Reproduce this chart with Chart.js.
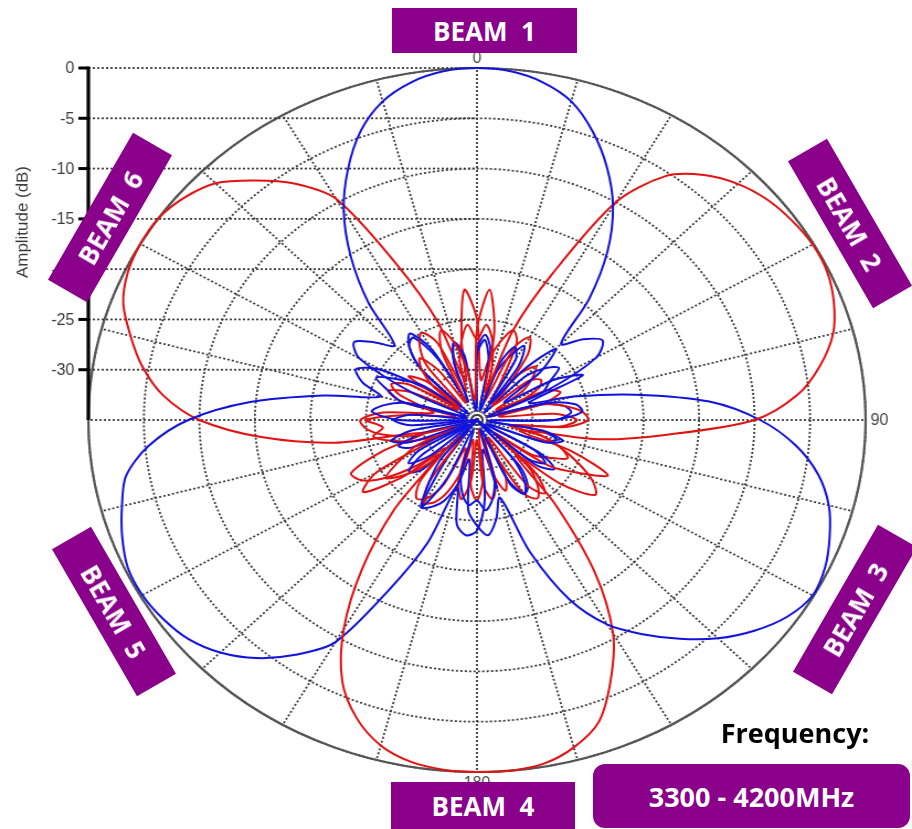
<!DOCTYPE html>
<html>
<head>
<meta charset="utf-8">
<script src="https://cdn.jsdelivr.net/npm/chart.js@4.4.1/dist/chart.umd.min.js"></script>
<style>
  html, body { margin: 0; padding: 0; background: #fff; }
  body { width: 912px; height: 829px; position: relative; overflow: hidden; font-family: 'Open Sans', sans-serif; }
  #chart { position: absolute; left: 0; top: 0; }
  .beam {
    position: absolute; height: 45px; background: #8b008b; color: #fff;
    font-weight: 700; font-size: 26px; display: flex; align-items: center;
    justify-content: center; white-space: pre;
  }
  .freq { position: absolute; left: 700px; top: 713px; width: 190px; height: 40px; line-height: 40px;
    text-align: center; font-weight: 700; font-size: 27px; color: #000; }
  .freqbox { position: absolute; left: 593px; top: 764px; width: 317px; height: 64px; border-radius: 12px;
    background: #8b008b; color: #fff; font-weight: 700; font-size: 27px; display: flex;
    align-items: center; justify-content: center; }
</style>
</head>
<body>
<canvas id="chart" width="826" height="829" style="width:912px;height:829px;"></canvas>
<div class="beam" style="left:392px;top:8px;width:185px;">BEAM  1</div>
<div class="beam" style="left:765px;top:201px;width:170px;transform:rotate(60deg);">BEAM  2</div>
<div class="beam" style="left:770px;top:587px;width:170px;transform:rotate(-60deg);">BEAM  3</div>
<div class="beam" style="left:391px;top:782px;width:184px;height:47px;">BEAM  4</div>
<div class="beam" style="left:29px;top:589px;width:170px;transform:rotate(60deg);">BEAM  5</div>
<div class="beam" style="left:25px;top:195px;width:170px;transform:rotate(-60deg);">BEAM  6</div>
<div class="freq">Frequency:</div>
<div class="freqbox">3300 - 4200MHz</div>
<script>
// azimuth in degrees, clockwise from the top
const ANGLES = [
  0, 5, 10, 15, 20, 25, 30, 35, 40, 45, 50, 55,
  60, 65, 70, 75, 80, 85, 90, 95, 100, 105, 110, 115,
  120, 125, 130, 135, 140, 145, 150, 155, 160, 165, 170, 175,
  180, 185, 190, 195, 200, 205, 210, 215, 220, 225, 230, 235,
  240, 245, 250, 255, 260, 265, 270, 275, 280, 285, 290, 295,
  300, 305, 310, 315, 320, 325, 330, 335, 340, 345, 350, 355
]

// amplitude in dB, one value per angle above
const BEAM1 = [
  0, -0.2, -0.9, -2.2, -4.5, -7.3, -10.5, -14.5, -19.3, -24.3, -22.5, -21.2,
  -22.6, -28, -34, -28.5, -26, -25.5, -28, -34, -29, -27, -28.5, -34,
  -29, -27.5, -29, -35, -30, -27.5, -26.5, -28.5, -34, -29, -27, -26,
  -27, -26.5, -27.5, -29.5, -34, -28.5, -25, -27.5, -30, -35, -29.5, -27.5,
  -29, -34, -28.5, -27, -29, -34, -28, -25.5, -26.5, -28.5, -34, -28.5,
  -22.8, -21.5, -23, -24.5, -19.8, -15.2, -11, -7.5, -4.4, -2.2, -0.9, -0.2
]
const BEAM2 = [
  -26, -22, -26, -32, -25.5, -19, -10, -5.4, -3.2, -1.8, -0.9, -0.4,
  -0.1, -0.2, -0.8, -1.8, -3.6, -6, -10, -18, -24, -31, -26, -22,
  -24.5, -27, -32, -27.5, -25.5, -27, -33, -29, -27.5, -29.5, -34, -29,
  -27, -28.5, -33, -30, -27.5, -26, -25.5, -27.5, -33, -29, -26.5, -25,
  -27, -29, -33, -29, -26.5, -25, -24.5, -26.5, -31, -30, -27.5, -26.5,
  -28, -33, -30, -28, -27, -29, -33, -27.5, -25.5, -27, -30, -33
]
const BEAM3 = [
  -28, -26.5, -28, -34, -29, -27, -28, -33, -28.5, -25, -27.5, -32,
  -27, -24.5, -30, -26, -20.5, -14, -9.5, -6.2, -3.8, -2.2, -1.2, -0.4,
  -0.1, -0.9, -2.4, -4.3, -6.6, -9, -11.5, -15.3, -21, -27, -25, -23.5,
  -24.5, -26, -31, -28.5, -26.5, -25.5, -25, -30, -34, -28, -27, -29,
  -34, -28.5, -27.5, -30, -35, -29, -27.5, -29, -34, -28, -26.5, -25,
  -27, -29, -34, -28, -25.5, -24.5, -27, -33, -29, -27, -29.5, -34
]
const BEAM4 = [
  -27, -25.5, -27, -30, -33, -27, -25.5, -27, -31, -33, -29, -28,
  -28.5, -31, -34, -29, -27, -25.5, -25, -27, -32, -29, -27, -25,
  -23, -22, -25, -30, -24, -16.5, -10.5, -6.5, -3, -1.3, -0.3, 0,
  0, -0.1, -0.5, -1.5, -3.4, -6.3, -11, -17, -23.5, -30, -26, -22.5,
  -24.5, -31, -29, -27, -25.5, -26.5, -25, -29, -33, -28, -26.5, -28.5,
  -33, -27.5, -29, -33, -28, -26, -25, -26.5, -32, -29, -27, -25.5
]
const BEAM5 = [
  -28.5, -27, -29, -34, -30, -28, -26.5, -28.5, -34, -29, -27, -26,
  -27.5, -28.5, -33, -29, -27, -26.5, -28, -34, -29.5, -27.5, -29, -34,
  -28.5, -26.5, -28, -34, -29, -27, -26.5, -28, -34, -28, -32, -27,
  -24, -23.5, -24.5, -28, -22, -16.5, -9.5, -6.5, -4.1, -2.3, -1.1, -0.5,
  -0.2, -0.3, -1, -1.9, -2.9, -5.3, -9, -14.5, -21, -26, -24, -23,
  -25, -30, -33, -28, -25.5, -25, -28, -33, -29, -27, -28.5, -34
]
const BEAM6 = [
  -25, -31, -29, -27, -25.5, -26.5, -31, -33, -29, -27.5, -28.5, -30,
  -33, -28, -27, -29, -33, -28, -26, -27.5, -32, -29, -27, -26,
  -27.5, -29, -33, -28.5, -26.5, -25.5, -26.5, -31, -33, -28.5, -27, -28.5,
  -33, -29, -27, -28.5, -32, -28, -26, -25.5, -27, -31, -28, -25,
  -23, -22.5, -26, -30, -22, -15.5, -10, -6.6, -4.4, -2.7, -1.1, -0.3,
  0, 0, -0.6, -1.7, -3.9, -6.3, -9.6, -18, -24.5, -31, -27, -22
]

const BEAMS = [BEAM1, BEAM2, BEAM3, BEAM4, BEAM5, BEAM6]
const BEAM_COLORS = ['#1212dc', '#e01212', '#1212dc', '#e01212', '#1212dc', '#e01212']

const AMP_TICKS = [0, -5, -10, -15, -20, -25, -30]
const ANGLE_LABELS = ['0', '90', '180']
const AMP_MIN = -35
const AMP_MAX = 0

// the canvas is stretched sideways by css, so the polar plot comes out elliptical like the original
const SX = 912 / 826

function flatText(ctx, str, x, y) {
	ctx.save()
	ctx.translate(x, y)
	ctx.scale(1 / SX, 1)
	ctx.fillText(str, 0, 0)
	ctx.restore()
}

const polarExtras = {
	id: 'polarExtras',
	beforeDatasetsDraw(chart) {
		const s = chart.scales.r
		const ctx = chart.ctx
		const cx = s.xCenter
		const cy = s.yCenter
		const R = s.drawingArea
		const ax = cx - R

		ctx.save()
		// outer ring
		ctx.setLineDash([])
		ctx.strokeStyle = '#555'
		ctx.lineWidth = 2.2
		ctx.beginPath()
		ctx.arc(cx, cy, R, 0, Math.PI * 2)
		ctx.stroke()

		// dotted level lines from the amplitude axis to the centre
		ctx.strokeStyle = '#3c3c3c'
		ctx.lineWidth = 1.8
		ctx.setLineDash([2, 2])
		AMP_TICKS.forEach((v) => {
			const y = cy - s.getDistanceFromCenterForValue(v)
			ctx.beginPath()
			ctx.moveTo(ax, y)
			ctx.lineTo(cx, y)
			ctx.stroke()
		})

		// amplitude axis
		ctx.setLineDash([])
		ctx.strokeStyle = '#000'
		ctx.lineWidth = 3.2
		ctx.beginPath()
		ctx.moveTo(ax, cy - R - 1.5)
		ctx.lineTo(ax, cy)
		ctx.stroke()
		ctx.lineWidth = 3
		AMP_TICKS.forEach((v) => {
			const y = cy - s.getDistanceFromCenterForValue(v)
			ctx.beginPath()
			ctx.moveTo(ax - 10 / SX, y)
			ctx.lineTo(ax, y)
			ctx.stroke()
		})

		ctx.fillStyle = '#3a3a3a'
		ctx.font = '16px "Liberation Sans", Arial, sans-serif'
		ctx.textAlign = 'right'
		ctx.textBaseline = 'middle'
		AMP_TICKS.forEach((v) => {
			const y = cy - s.getDistanceFromCenterForValue(v)
			flatText(ctx, String(v), ax - 14 / SX, y + 1)
		})

		// axis title
		ctx.save()
		ctx.translate(23 / SX, 222)
		ctx.scale(1 / SX, 1)
		ctx.rotate(-Math.PI / 2)
		ctx.font = '17px "Liberation Sans Narrow", "Liberation Sans", Arial, sans-serif'
		ctx.textAlign = 'center'
		ctx.textBaseline = 'middle'
		const w = ctx.measureText('Amplitude (dB)').width
		ctx.scale(112 / w, 1)
		ctx.fillText('Amplitude (dB)', 0, 0)
		ctx.restore()

		// angle labels
		ctx.font = '16px "Liberation Sans", Arial, sans-serif'
		ctx.fillStyle = '#444'
		const top = s.getPointPosition(ANGLES.indexOf(0), R)
		ctx.textAlign = 'center'
		ctx.textBaseline = 'bottom'
		flatText(ctx, ANGLE_LABELS[0], top.x, top.y - 1)
		const right = s.getPointPosition(ANGLES.indexOf(90), R)
		ctx.textAlign = 'left'
		ctx.textBaseline = 'middle'
		flatText(ctx, ANGLE_LABELS[1], right.x + 5 / SX, right.y + 1)
		const bottom = s.getPointPosition(ANGLES.indexOf(180), R)
		ctx.textAlign = 'center'
		ctx.textBaseline = 'top'
		flatText(ctx, ANGLE_LABELS[2], bottom.x, bottom.y + 4)
		ctx.restore()
	},
}

const canvas = document.getElementById('chart')
new Chart(canvas.getContext('2d'), {
	type: 'radar',
	data: {
		labels: ANGLES,
		datasets: BEAMS.map((values, i) => ({
			label: 'BEAM ' + (i + 1),
			data: values,
			borderColor: BEAM_COLORS[i],
			backgroundColor: 'transparent',
			borderWidth: 2,
			fill: false,
			pointRadius: 0,
			pointHitRadius: 0,
			tension: 0.3,
		})),
	},
	options: {
		responsive: false,
		devicePixelRatio: 1,
		animation: false,
		events: [],
		layout: { padding: { left: 80, right: 42, top: 68, bottom: 57 } },
		plugins: {
			legend: { display: false },
			tooltip: { enabled: false },
		},
		scales: {
			r: {
				min: AMP_MIN,
				max: AMP_MAX,
				startAngle: 0,
				ticks: { display: false, stepSize: 5 },
				pointLabels: { display: false },
				grid: { color: '#3c3c3c', lineWidth: 1.8, circular: true },
				border: { dash: [2, 2] },
				angleLines: {
					display: true,
					color: '#3c3c3c',
					lineWidth: (c) => (c.index % 3 === 0 ? 1.8 : 0),
					borderDash: [2, 2],
				},
			},
		},
	},
	plugins: [polarExtras],
})
</script>
</body>
</html>
